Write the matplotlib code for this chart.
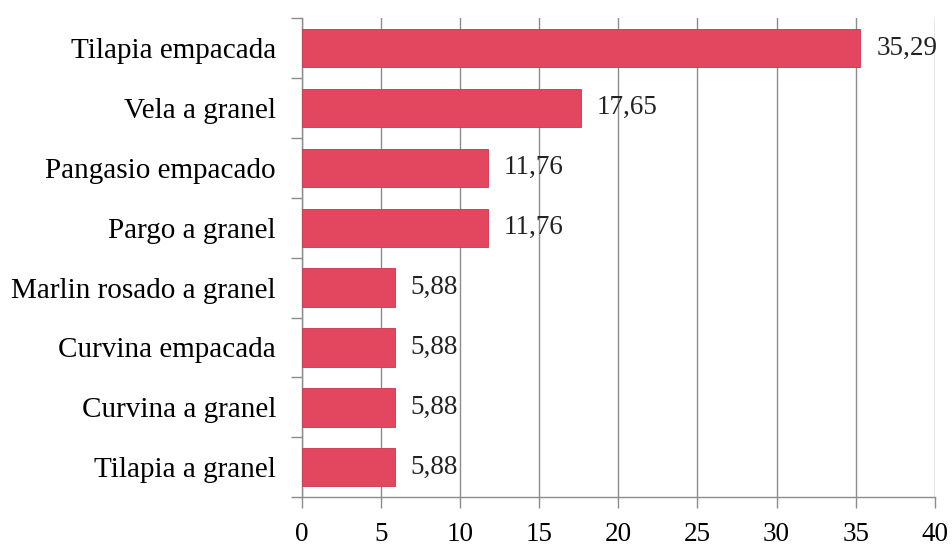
import matplotlib.pyplot as plt
import numpy as np

plt.rcParams['font.family'] = ['Liberation Serif', 'DejaVu Serif']

categories = ['Tilapia empacada', 'Vela a granel', 'Pangasio empacado', 'Pargo a granel',
              'Marlin rosado a granel', 'Curvina empacada', 'Curvina a granel', 'Tilapia a granel']
values = [35.29, 17.65, 11.76, 11.76, 5.88, 5.88, 5.88, 5.88]
labels = ['35,29', '17,65', '11,76', '11,76', '5,88', '5,88', '5,88', '5,88']
xticks = [0, 5, 10, 15, 20, 25, 30, 35, 40]

bar_color = '#E3475F'
grid_color = '#8c8c8c'

fig = plt.figure(figsize=(9.52, 5.47), dpi=100)
ax = fig.add_axes([0.317, 0.091, 0.665, 0.876])

n = len(categories)
pos = np.arange(n)[::-1]
ax.barh(pos, values, height=0.64, color=bar_color, edgecolor='#c9364d', linewidth=0.6, zorder=3)

for p, v, lab in zip(pos, values, labels):
    ax.text(v + 1.0, p, lab, va='center', ha='left', fontsize=19.5, color='#222222')

ax.set_xlim(0, 40)
ax.set_ylim(-0.5, n - 0.5)
ax.set_xticks(xticks)
ax.set_xticklabels([str(t) for t in xticks], fontsize=19.5)
ax.set_yticks(pos)
ax.set_yticklabels(categories, fontsize=21)
ax.set_yticks(np.arange(-0.5, n, 1.0), minor=True)

ax.tick_params(axis='y', which='major', length=0, pad=18.5)
ax.tick_params(axis='y', which='minor', length=8, color=grid_color, width=1)
ax.tick_params(axis='x', length=8, color=grid_color, width=1, pad=10)

ax.xaxis.grid(True, color=grid_color, linewidth=1, zorder=0)
ax.set_axisbelow(True)

for s in ['top', 'right']:
    ax.spines[s].set_visible(False)
for s in ['left', 'bottom']:
    ax.spines[s].set_color(grid_color)
    ax.spines[s].set_linewidth(1)

plt.savefig('out.png', dpi=100)
